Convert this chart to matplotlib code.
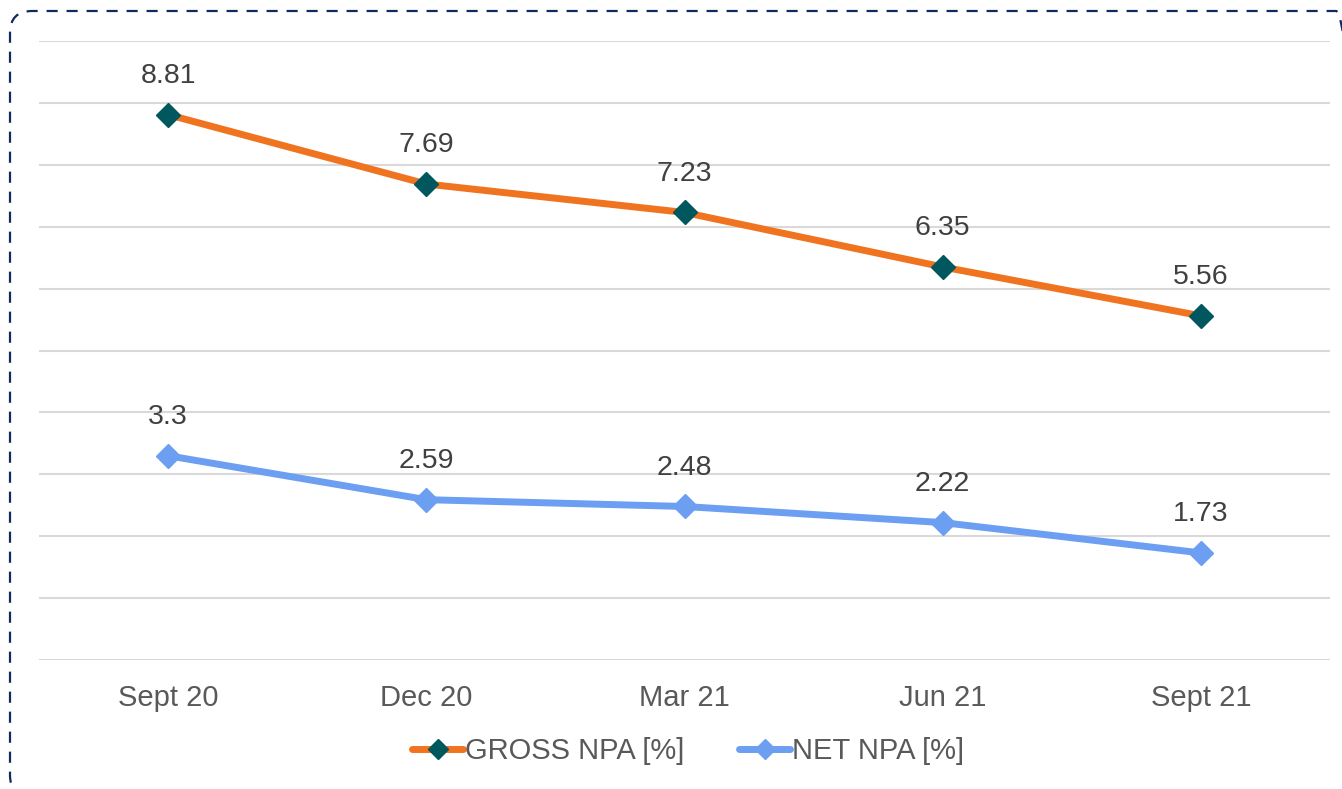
import matplotlib.pyplot as plt
from matplotlib.patches import FancyBboxPatch
from matplotlib.transforms import IdentityTransform

categories = ['Sept 20', 'Dec 20', 'Mar 21', 'Jun 21', 'Sept 21']
gross_npa = [8.81, 7.69, 7.23, 6.35, 5.56]
net_npa = [3.3, 2.59, 2.48, 2.22, 1.73]

plt.rcParams['font.family'] = ['Liberation Sans', 'DejaVu Sans']
text_color = '#595959'

W, H = 1342, 789
fig = plt.figure(figsize=(W / 100, H / 100), dpi=100)
ax = fig.add_axes([39 / W, 1 - 660 / H, (1330 - 39) / W, (660 - 41) / H])

x = range(len(categories))
ax.plot(x, gross_npa, color='#F07420', linewidth=5, marker='D', markersize=12,
        markerfacecolor='#00585E', markeredgecolor='#00585E', label='GROSS NPA [%]',
        solid_capstyle='round', zorder=3)
ax.plot(x, net_npa, color='#6C9EF2', linewidth=5, marker='D', markersize=12,
        markerfacecolor='#6C9EF2', markeredgecolor='#6C9EF2', label='NET NPA [%]',
        solid_capstyle='round', zorder=3)

for series in (gross_npa, net_npa):
    for xi, v in zip(x, series):
        ax.annotate(f'{v:g}', (xi, v), xytext=(0, 28), textcoords='offset points',
                    ha='center', va='center', fontsize=20.5, color='#404040')

ax.set_xlim(-0.5, 4.5)
ax.set_ylim(0, 10)
ax.set_yticks(range(0, 11))
ax.set_yticklabels([])
ax.set_xticks(list(x))
ax.set_xticklabels(categories, fontsize=21, color=text_color)
ax.tick_params(axis='both', length=0, pad=17)
ax.grid(axis='y', color='#D9D9D9', linewidth=1.5)
ax.set_axisbelow(True)
for s in ax.spines.values():
    s.set_visible(False)

leg = fig.legend(loc='center', bbox_to_anchor=(688 / W, 1 - 751 / H), ncol=2,
                 frameon=False, fontsize=21, handlelength=1.75, handletextpad=0.05,
                 columnspacing=1.9, markerscale=0.85)
for t in leg.get_texts():
    t.set_color(text_color)

# dashed rounded frame (pixel coordinates, origin bottom-left)
border = FancyBboxPatch((10, -8), 1348, H + 8 - 11,
                        boxstyle='round,pad=0,rounding_size=22',
                        transform=IdentityTransform(), fill=False,
                        edgecolor='#0E2A5E', linewidth=1.6, linestyle=(0, (5, 4)),
                        clip_on=False)
fig.patches.append(border)

fig.savefig('out.png', dpi=100)
